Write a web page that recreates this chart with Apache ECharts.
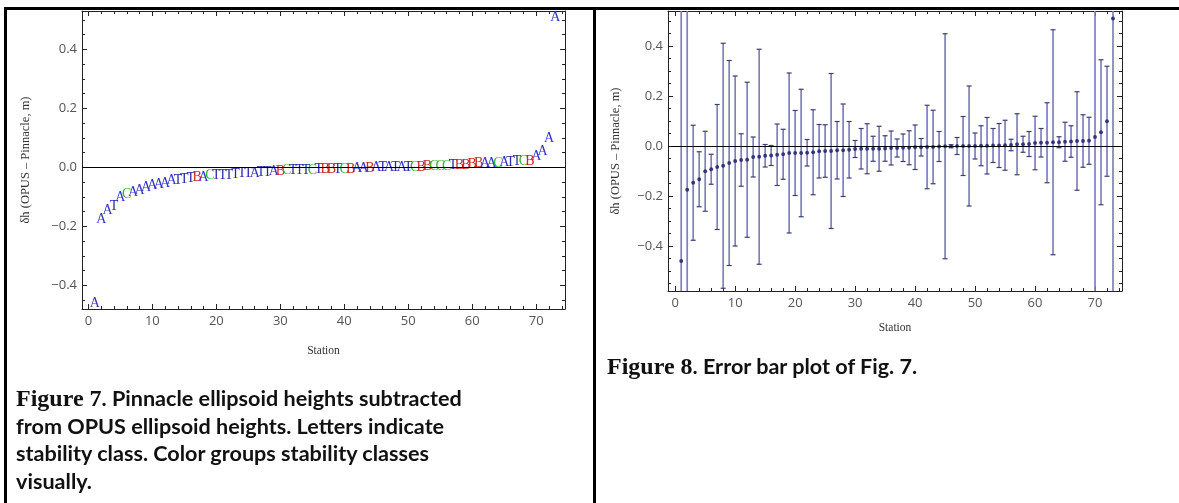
<!DOCTYPE html>
<html>
<head>
<meta charset="utf-8">
<script src="https://cdn.jsdelivr.net/npm/echarts@6/dist/echarts.min.js"></script>
<style>
html, body { margin: 0; padding: 0; background: #fff; }
#wrap { position: relative; width: 1179px; height: 503px; overflow: hidden; }
#chart { position: absolute; left: 0; top: 0; width: 1179px; height: 503px; }
.rule { position: absolute; background: #000; }
.cap { position: absolute; font-family: Lato, "Open Sans", sans-serif; font-weight: 700; font-size: 21.6px; line-height: 27.7px; color: #111; white-space: nowrap; }
.cap .fig { font-family: "Liberation Serif", serif; font-weight: 700; font-size: 24px; }
</style>
</head>
<body>
<div id="wrap">
  <div id="chart"></div>
  <div class="rule" style="left:4px;top:7px;width:1175px;height:3px"></div>
  <div class="rule" style="left:4px;top:7px;width:3px;height:496px"></div>
  <div class="rule" style="left:593px;top:7px;width:3px;height:496px"></div>
  <div class="cap" style="left:16px;top:385px"><span class="fig">Figure 7</span>. Pinnacle ellipsoid heights subtracted<br>from OPUS ellipsoid heights. Letters indicate<br>stability class. Color groups stability classes<br>visually.</div>
  <div class="cap" style="left:607px;top:353px"><span class="fig">Figure 8</span>. Error bar plot of Fig. 7.</div>
</div>
<script>
// dh (OPUS - Pinnacle, m), sorted, station 1..73
var dh = [
  -0.46, -0.175, -0.147, -0.133, -0.101, -0.093, -0.084, -0.079, -0.068, -0.06,
  -0.056, -0.055, -0.044, -0.043, -0.039, -0.038, -0.035, -0.033, -0.028, -0.028,
  -0.028, -0.027, -0.025, -0.021, -0.02, -0.02, -0.017, -0.017, -0.015, -0.012,
  -0.011, -0.011, -0.011, -0.011, -0.01, -0.008, -0.008, -0.007, -0.007, -0.005,
  -0.005, -0.004, -0.004, -0.002, -0.001, -0.001, 0.0, 0.0, 0.0, 0.0,
  0.001, 0.001, 0.002, 0.002, 0.003, 0.004, 0.007, 0.007, 0.008, 0.012,
  0.013, 0.013, 0.015, 0.015, 0.017, 0.018, 0.02, 0.02, 0.021, 0.036,
  0.055, 0.099, 0.51
];
// error (half length of bar, m)
var err = [
  1.1, 0.8, 0.23, 0.11, 0.16, 0.06, 0.25, 0.49, 0.41, 0.34,
  0.105, 0.31, 0.08, 0.43, 0.045, 0.04, 0.123, 0.1, 0.32, 0.17,
  0.255, 0.053, 0.17, 0.107, 0.105, 0.31, 0.115, 0.185, 0.113, 0.034,
  0.081, 0.1, 0.05, 0.09, 0.051, 0.068, 0.036, 0.055, 0.068, 0.089,
  0.035, 0.167, 0.147, 0.06, 0.45, 0.006, 0.034, 0.118, 0.24, 0.052,
  0.08, 0.113, 0.068, 0.088, 0.1, 0.023, 0.122, 0.032, 0.05, 0.107,
  0.057, 0.16, 0.45, 0.022, 0.078, 0.063, 0.197, 0.105, 0.094, 0.7,
  0.29, 0.22, 1.15
];
// stability class letter of each station
var stab = [
  'A','A','A','T','A','C','A','A','A','A',
  'A','A','A','T','T','T','B','A','C','T',
  'T','T','T','T','T','A','T','T','A','B',
  'C','T','T','T','C','T','B','B','T','C',
  'B','A','A','B','A','T','A','T','A','T',
  'C','B','B','C','C','C','T','B','B','B',
  'B','A','A','C','A','T','T','C','B','A',
  'A','A','A'
];

var xMajor = [0, 10, 20, 30, 40, 50, 60, 70];
var xMinor = [2, 4, 6, 8, 12, 14, 16, 18, 22, 24, 26, 28, 32, 34, 36, 38, 42, 44, 46, 48, 52, 54, 56, 58, 62, 64, 66, 68, 72, 74];
var yMajor = [-0.4, -0.2, 0.0, 0.2, 0.4];
var yMinor = [-0.55, -0.5, -0.45, -0.35, -0.3, -0.25, -0.15, -0.1, -0.05, 0.05, 0.1, 0.15, 0.25, 0.3, 0.35, 0.45, 0.5];

var classColor = { A: '#3434c4', T: '#2a2aa6', B: '#c82a2a', C: '#36b636' };

var pts = [];
for (var i = 0; i < dh.length; i++) {
    pts.push([i + 1, dh[i], err[i]]);
}

function fmtY(v) {
    v = Math.round(v * 10) / 10;
    return (v < 0 ? '\u2212' : '') + Math.abs(v).toFixed(1);
}

// one side of the frame: major ticks (+labels) and minor ticks as two axes
function frameSide(grid, pos, min, max, majors, minors, labels, name, nameGap) {
    var isX = (pos === 'top' || pos === 'bottom');
    var base = {
        type: 'value', gridIndex: grid, position: pos, min: min, max: max,
        splitLine: { show: false }, splitArea: { show: false }
    };
    var major = Object.assign({}, base, {
        axisLine: { show: true, onZero: false, lineStyle: { color: '#222', width: 1 } },
        axisTick: { show: true, inside: true, length: 5, customValues: majors, lineStyle: { color: '#222', width: 1 } },
        axisLabel: {
            show: labels, customValues: majors, margin: isX ? 6 : 5,
            color: '#555', fontSize: 13, fontFamily: 'Open Sans',
            formatter: isX ? function (v) { return String(v); } : fmtY
        }
    });
    if (name) {
        major.name = name;
        major.nameLocation = 'middle';
        major.nameGap = nameGap;
        major.nameTextStyle = { fontFamily: 'Liberation Serif', fontSize: isX ? 11.5 : 12.5, color: '#333' };
    }
    var minor = Object.assign({}, base, {
        axisLine: { show: false, onZero: false },
        axisTick: { show: true, inside: true, length: 3, customValues: minors, lineStyle: { color: '#222', width: 1 } },
        axisLabel: { show: false }
    });
    return [major, minor];
}

var yName = '\u03b4h (OPUS \u2013 Pinnacle, m)';

var xAxes = [].concat(
    frameSide(0, 'bottom', -1, 74.5, xMajor, xMinor, true, 'Station', 36),
    frameSide(0, 'top', -1, 74.5, xMajor, xMinor, false),
    frameSide(1, 'bottom', -1.2, 74.5, xMajor, xMinor, true, 'Station', 31),
    frameSide(1, 'top', -1.2, 74.5, xMajor, xMinor, false)
);
var yAxes = [].concat(
    frameSide(0, 'left', -0.48, 0.53, yMajor, yMinor, true, yName, 50),
    frameSide(0, 'right', -0.48, 0.53, yMajor, yMinor, false),
    frameSide(1, 'left', -0.58, 0.54, yMajor, yMinor, true, yName, 46),
    frameSide(1, 'right', -0.58, 0.54, yMajor, yMinor, false)
);

function renderLetter(params, api) {
    var p = api.coord([api.value(0), api.value(1)]);
    var k = stab[params.dataIndex];
    return {
        type: 'text', x: p[0], y: p[1],
        style: { text: k, fill: classColor[k], fontFamily: 'Liberation Serif', fontSize: 14, align: 'center', verticalAlign: 'middle' }
    };
}

function renderErr(params, api) {
    var x = api.value(0), y = api.value(1), e = api.value(2);
    var cs = params.coordSys;
    var top = api.coord([x, y + e]);
    var bot = api.coord([x, y - e]);
    var mid = api.coord([x, y]);
    var y0 = cs.y, y1 = cs.y + cs.height;
    var ty = Math.max(top[1], y0), by = Math.min(bot[1], y1);
    var kids = [];
    kids.push({ type: 'line', shape: { x1: mid[0], y1: ty, x2: mid[0], y2: by }, style: { stroke: '#8080bd', lineWidth: 1.7 } });
    if (top[1] >= y0) {
        kids.push({ type: 'line', shape: { x1: mid[0] - 2.5, y1: top[1], x2: mid[0] + 2.5, y2: top[1] }, style: { stroke: '#3d3d70', lineWidth: 1.2 } });
    }
    if (bot[1] <= y1) {
        kids.push({ type: 'line', shape: { x1: mid[0] - 2.5, y1: bot[1], x2: mid[0] + 2.5, y2: bot[1] }, style: { stroke: '#3d3d70', lineWidth: 1.2 } });
    }
    if (mid[1] >= y0 && mid[1] <= y1) {
        kids.push({ type: 'circle', shape: { cx: mid[0], cy: mid[1], r: 1.9 }, style: { fill: '#33337a' } });
    }
    return { type: 'group', children: kids };
}

var zeroLine = {
    silent: true, symbol: 'none', animation: false,
    label: { show: false },
    lineStyle: { color: '#000', width: 1, type: 'solid' },
    data: [{ yAxis: 0 }]
};

var chart = echarts.init(document.getElementById('chart'), null, { renderer: 'canvas' });
var option = {
    animation: false,
    backgroundColor: 'transparent',
    grid: [
        { left: 82, top: 11, width: 483, height: 298 },
        { left: 668, top: 11, width: 454, height: 280 }
    ],
    xAxis: xAxes,
    yAxis: yAxes,
    series: [
        {
            type: 'custom', name: 'class', xAxisIndex: 0, yAxisIndex: 0,
            data: pts, encode: { x: 0, y: 1 }, renderItem: renderLetter,
            markLine: zeroLine, z: 3
        },
        {
            type: 'custom', name: 'errbar', xAxisIndex: 4, yAxisIndex: 4,
            data: pts, encode: { x: 0, y: 1 }, renderItem: renderErr,
            markLine: zeroLine, z: 3
        }
    ]
};
chart.setOption(option);
</script>
</body>
</html>
